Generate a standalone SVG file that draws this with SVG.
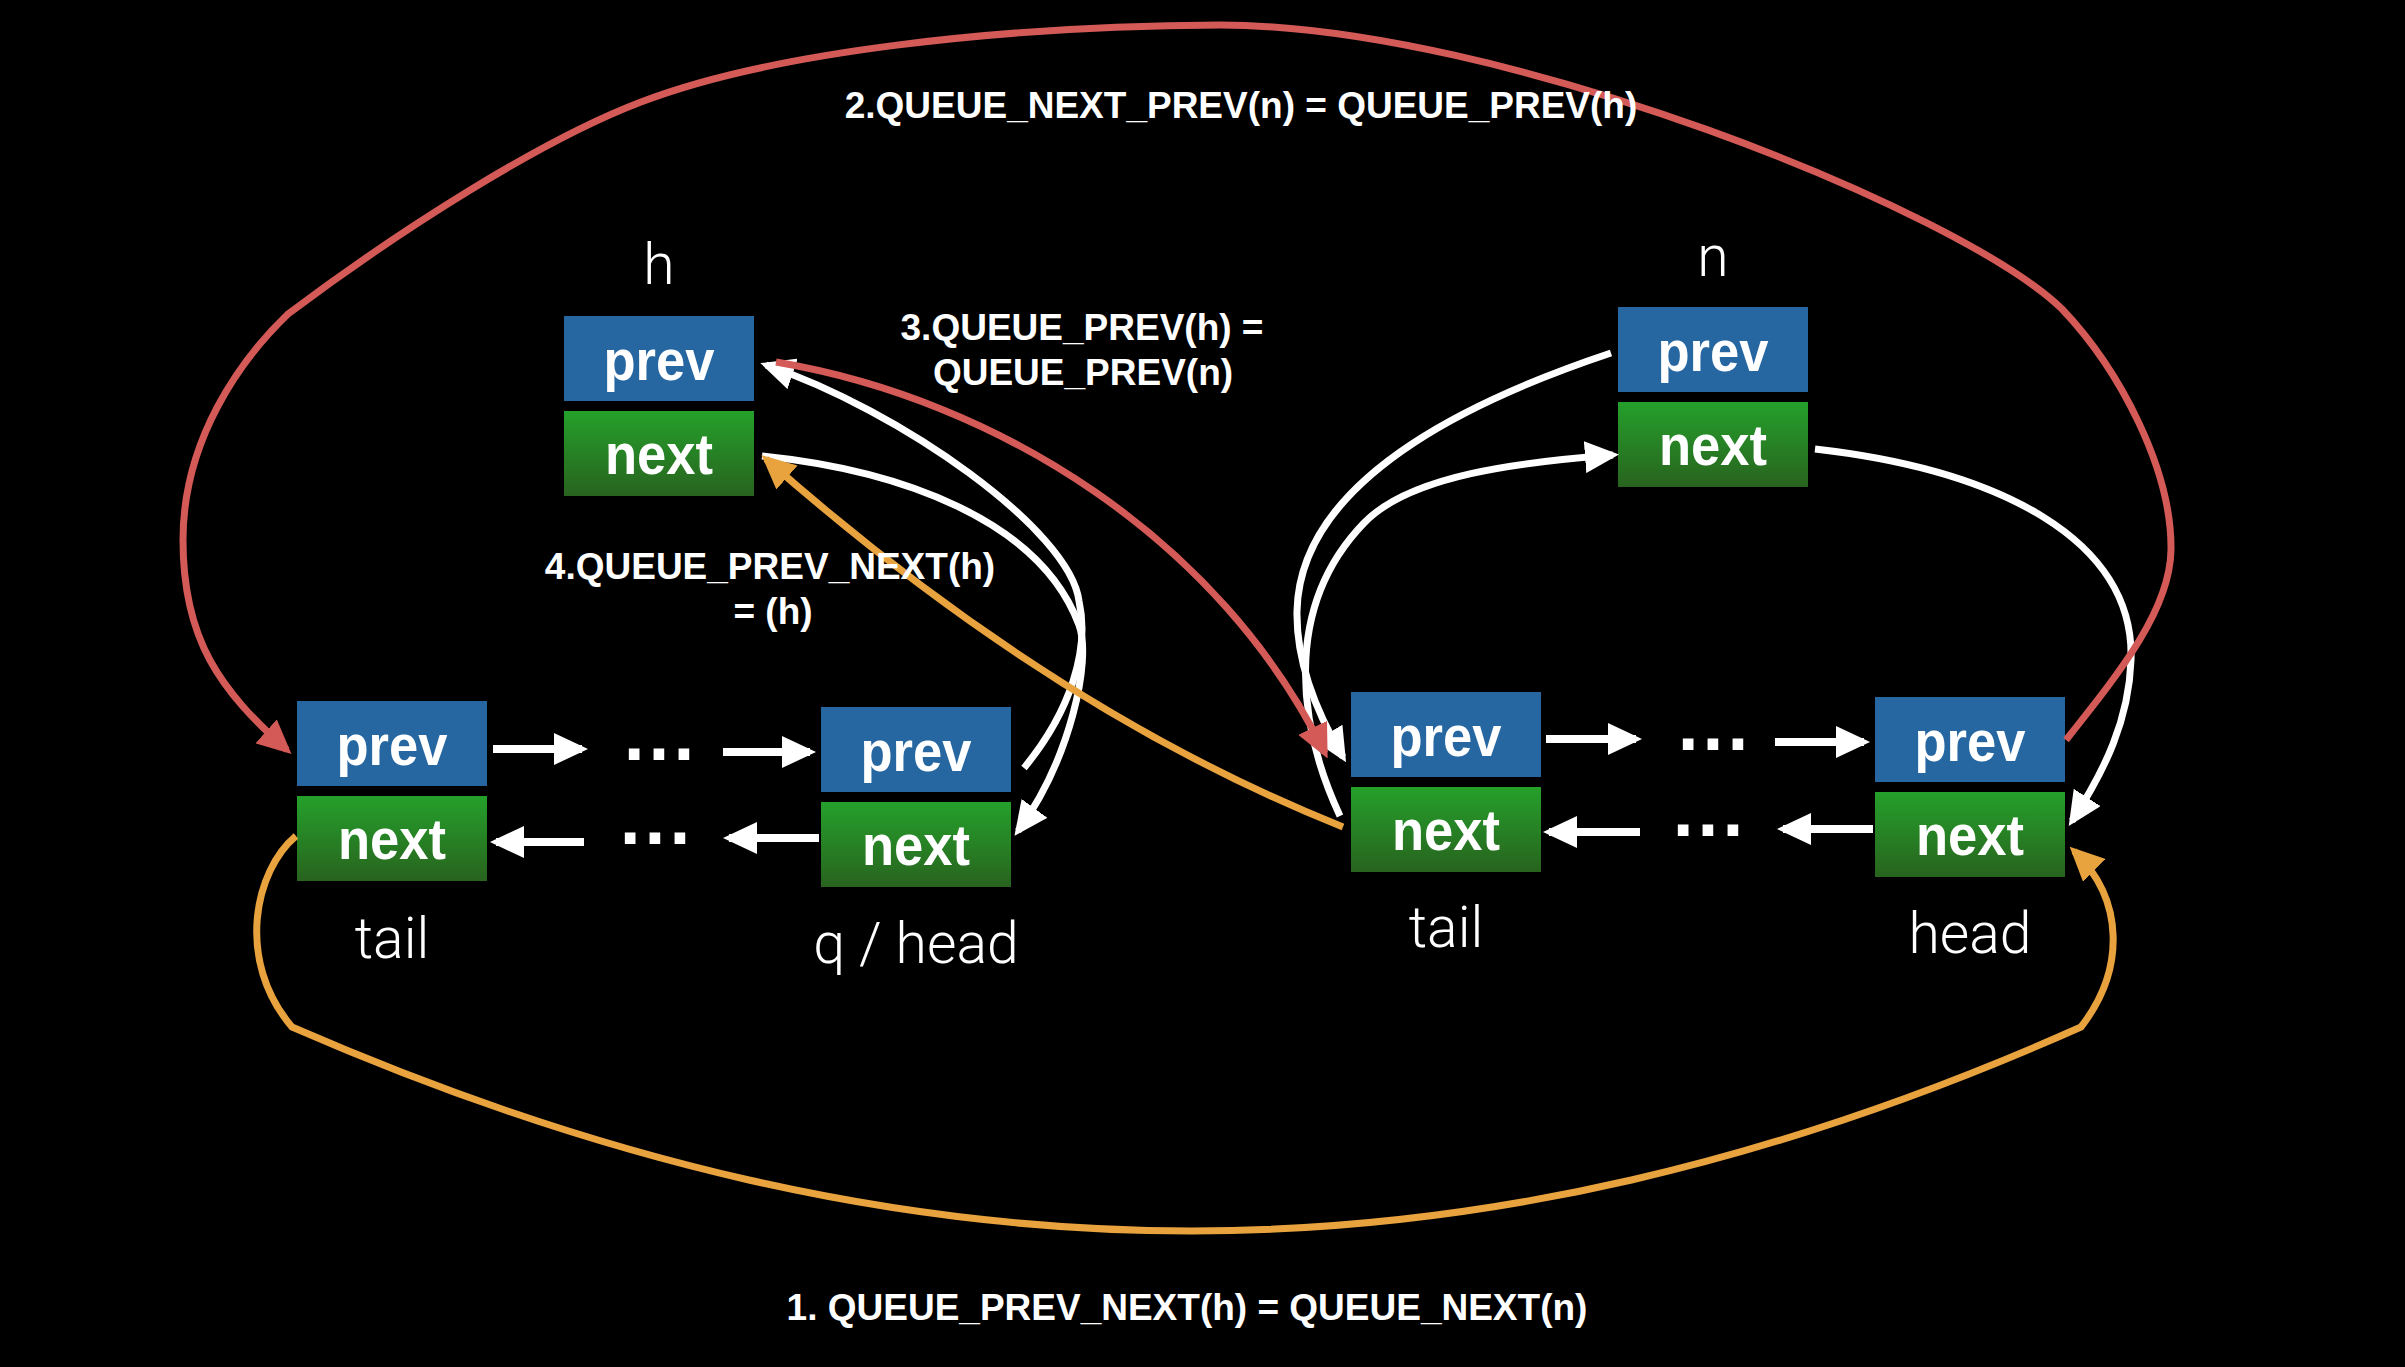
<svg xmlns="http://www.w3.org/2000/svg" width="2405" height="1367" viewBox="0 0 2405 1367">
  <defs>
    <linearGradient id="gGreen" x1="0" y1="0" x2="0" y2="1">
      <stop offset="0" stop-color="#25a02b"/>
      <stop offset="1" stop-color="#28631e"/>
    </linearGradient>
    <marker id="arrowW" markerUnits="userSpaceOnUse" markerWidth="34" markerHeight="32" viewBox="0 0 34 32" refX="28" refY="16" orient="auto">
      <path d="M0,0 L34,16 L0,32 z" fill="#ffffff"/>
    </marker>
    <marker id="arrowR" markerUnits="userSpaceOnUse" markerWidth="34" markerHeight="32" viewBox="0 0 34 32" refX="28" refY="16" orient="auto">
      <path d="M0,0 L34,16 L0,32 z" fill="#d35a57"/>
    </marker>
    <marker id="arrowO" markerUnits="userSpaceOnUse" markerWidth="34" markerHeight="32" viewBox="0 0 34 32" refX="28" refY="16" orient="auto">
      <path d="M0,0 L34,16 L0,32 z" fill="#e8a23e"/>
    </marker>
  </defs>
  <style>
    .prev { fill: #2767a1; }
    .next { fill: url(#gGreen); }
    .ft { font-family: "Liberation Sans", Arial, Helvetica, sans-serif; font-weight: bold; font-size: 57px; fill: #ffffff; text-anchor: middle; }
    .lbl { font-family: Roboto, "Liberation Sans", Arial, sans-serif; font-weight: 300; font-size: 57px; fill: #ffffff; text-anchor: middle; }
    .note { font-family: "Liberation Sans", Arial, Helvetica, sans-serif; font-weight: bold; font-size: 37px; fill: #ffffff; text-anchor: middle; }
    .dots { font-family: "DejaVu Sans", "Liberation Sans", sans-serif; font-weight: bold; font-size: 60px; letter-spacing: 2px; fill: #ffffff; text-anchor: middle; }
    .w { fill: none; stroke: #ffffff; stroke-width: 7; }
    .s { fill: none; stroke: #ffffff; stroke-width: 8; }
    .r { fill: none; stroke: #d35a57; stroke-width: 7; }
    .o { fill: none; stroke: #e8a23e; stroke-width: 7; }
  </style>
  <rect x="0" y="0" width="2405" height="1367" fill="#000000"/>

  <g id="node-h">
    <text class="lbl" x="659" y="284">h</text>
    <rect class="prev" x="564" y="316" width="190" height="85"/>
    <text class="ft" x="659" y="380" textLength="111" lengthAdjust="spacingAndGlyphs">prev</text>
    <rect class="next" x="564" y="411" width="190" height="85"/>
    <text class="ft" x="659" y="474" textLength="108" lengthAdjust="spacingAndGlyphs">next</text>
  </g>

  <g id="node-n">
    <text class="lbl" x="1713" y="276">n</text>
    <rect class="prev" x="1618" y="307" width="190" height="85"/>
    <text class="ft" x="1713" y="371" textLength="111" lengthAdjust="spacingAndGlyphs">prev</text>
    <rect class="next" x="1618" y="402" width="190" height="85"/>
    <text class="ft" x="1713" y="465" textLength="108" lengthAdjust="spacingAndGlyphs">next</text>
  </g>

  <g id="node-tail-left">
    <rect class="prev" x="297" y="701" width="190" height="85"/>
    <text class="ft" x="392" y="765" textLength="111" lengthAdjust="spacingAndGlyphs">prev</text>
    <rect class="next" x="297" y="796" width="190" height="85"/>
    <text class="ft" x="392" y="859" textLength="108" lengthAdjust="spacingAndGlyphs">next</text>
    <text class="lbl" x="392" y="958">tail</text>
  </g>

  <g id="node-q-head">
    <rect class="prev" x="821" y="707" width="190" height="85"/>
    <text class="ft" x="916" y="771" textLength="111" lengthAdjust="spacingAndGlyphs">prev</text>
    <rect class="next" x="821" y="802" width="190" height="85"/>
    <text class="ft" x="916" y="865" textLength="108" lengthAdjust="spacingAndGlyphs">next</text>
    <text class="lbl" x="916" y="963">q / head</text>
  </g>

  <g id="node-tail-right">
    <rect class="prev" x="1351" y="692" width="190" height="85"/>
    <text class="ft" x="1446" y="756" textLength="111" lengthAdjust="spacingAndGlyphs">prev</text>
    <rect class="next" x="1351" y="787" width="190" height="85"/>
    <text class="ft" x="1446" y="850" textLength="108" lengthAdjust="spacingAndGlyphs">next</text>
    <text class="lbl" x="1446" y="947">tail</text>
  </g>

  <g id="node-head-right">
    <rect class="prev" x="1875" y="697" width="190" height="85"/>
    <text class="ft" x="1970" y="761" textLength="111" lengthAdjust="spacingAndGlyphs">prev</text>
    <rect class="next" x="1875" y="792" width="190" height="85"/>
    <text class="ft" x="1970" y="855" textLength="108" lengthAdjust="spacingAndGlyphs">next</text>
    <text class="lbl" x="1970" y="953">head</text>
  </g>

  <g id="ellipses">
    <text class="dots" x="660" y="760">...</text>
    <text class="dots" x="656" y="844">...</text>
    <text class="dots" x="1714" y="750">...</text>
    <text class="dots" x="1709" y="836">...</text>
  </g>

  <g id="connectors">
    <path class="s" d="M493,749 H582" marker-end="url(#arrowW)"/>
    <path class="s" d="M723,752 H810" marker-end="url(#arrowW)"/>
    <path class="s" d="M819,838 H729" marker-end="url(#arrowW)"/>
    <path class="s" d="M584,842 H496" marker-end="url(#arrowW)"/>
    <path class="s" d="M1546,739 H1636" marker-end="url(#arrowW)"/>
    <path class="s" d="M1775,742 H1864" marker-end="url(#arrowW)"/>
    <path class="s" d="M1873,829 H1783" marker-end="url(#arrowW)"/>
    <path class="s" d="M1640,832 H1549" marker-end="url(#arrowW)"/>

    <path class="w" d="M1024,768 C1070,712 1090,650 1079,601 C1070,530 900,410 766,365" marker-end="url(#arrowW)"/>
    <path class="w" d="M762,456 C900,470 1040,520 1079,625 C1092,660 1070,760 1018,831" marker-end="url(#arrowW)"/>
    <path class="w" d="M1611,353 C1500,390 1300,470 1297,611 C1296,665 1318,715 1343,757" marker-end="url(#arrowW)"/>
    <path class="w" d="M1340,816 C1300,730 1280,610 1364,523 C1410,475 1520,462 1613,455" marker-end="url(#arrowW)"/>
    <path class="w" d="M1815,449 C2000,470 2135,540 2131,660 C2129,720 2105,770 2072,821" marker-end="url(#arrowW)"/>

    <path class="r" d="M2066,740 C2120,672 2170,610 2171,550 C2172,470 2120,370 2062,309 C1960,210 1500,25 1220,25 C1000,26 771,52 641,102 C541,140 400,230 288,314 C240,360 183,440 183,540 C183,640 220,690 287,750" marker-end="url(#arrowR)"/>
    <path class="r" d="M776,362 C1000,400 1220,540 1325,753" marker-end="url(#arrowR)"/>

    <path class="o" d="M1343,827 C1150,750 960,630 766,459" marker-end="url(#arrowO)"/>
    <path class="o" d="M296,836 C255,870 235,960 292,1027 C916,1299 1470,1299 2081,1027 C2125,970 2125,900 2074,851" marker-end="url(#arrowO)"/>
  </g>

  <g id="notes">
    <text class="note" x="1241" y="118">2.QUEUE_NEXT_PREV(n) = QUEUE_PREV(h)</text>
    <text class="note" x="1082" y="340">3.QUEUE_PREV(h) =</text>
    <text class="note" x="1083" y="385">QUEUE_PREV(n)</text>
    <text class="note" x="770" y="579">4.QUEUE_PREV_NEXT(h)</text>
    <text class="note" x="773" y="624">= (h)</text>
    <text class="note" x="1187" y="1320">1. QUEUE_PREV_NEXT(h) = QUEUE_NEXT(n)</text>
  </g>
</svg>
